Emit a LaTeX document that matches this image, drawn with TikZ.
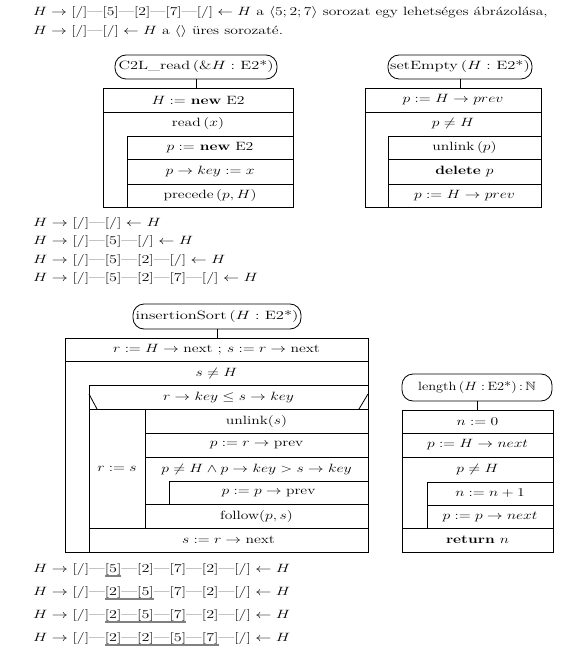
\documentclass[tikz,border=0pt]{standalone}
\usepackage{amssymb}
\usepackage{graphicx}
\newcommand\hs[2][1.3]{\scalebox{#1}[1]{#2}}
\newcommand\ulbox[1]{\setbox0\hbox{#1}\rlap{\color{gray}\rule[-4.5pt]{\wd0}{1.3pt}}\box0}
\newcommand\Cell[6]{\node[cell,minimum width={#4pt-#2pt},minimum height={#5pt-#3pt}] (#1) at (#2,#3) {\hs{#6}};}
\tikzset{
  cell/.style={draw=black, line width=0.8pt, anchor=north west, inner sep=0pt, outer sep=0pt},
  ttl/.style={draw=black, line width=0.8pt, rounded corners=11pt, inner xsep=1pt, inner ysep=0pt, outer sep=0pt},
  txt/.style={inner sep=0pt, anchor=base west},
  lbl/.style={inner sep=0pt},
  conn/.style={line width=0.8pt},
  diag/.style={line width=0.8pt},
  every node/.append style={font=\fontsize{12pt}{14pt}\selectfont}
}
\begin{document}
\begin{tikzpicture}[x=1pt,y=-1pt]
\useasboundingbox (0,0) rectangle (586,663);
% top text
\node[txt] (top1) at (33,16) {\hs{$H\to{}$[/]---[5]---[2]---[7]---[/]${}\leftarrow H$ a $\langle 5;2;7\rangle$ sorozat egy lehetséges ábrázolása,}};
\node[txt] (top2) at (33,35) {\hs{$H\to{}$[/]---[/]${}\leftarrow H$ a $\langle\rangle$ üres sorozaté.}};

% C2L_read
\node[ttl, minimum width=162pt, minimum height=24pt] (t1) at (196,67) {\hs[1.36]{C2L\_read\,$(\&H:\ $E2*$)$}};
\Cell{a1}{103}{88}{293}{112}{$H :=$ \textbf{new} E2}
\Cell{a2}{103}{112}{293}{207}{}
\node[lbl] (a2t) at (198,124) {\hs{read\,$(x)$}};
\Cell{a3}{127}{136}{293}{159}{$p :=$ \textbf{new} E2}
\Cell{a4}{127}{159}{293}{184}{$p \to key := x$}
\Cell{a5}{127}{184}{293}{207}{precede\,$(p,H)$}
\draw[conn] (t1.south) -- (t1.south |- a1.north);

% setEmpty
\node[ttl, minimum width=144pt, minimum height=24pt] (t2) at (460,67) {\hs[1.38]{setEmpty\,$(H:\ $E2*$)$}};
\Cell{b1}{365}{88}{541}{112}{$p := H \to prev$}
\Cell{b2}{365}{112}{541}{207}{}
\node[lbl] (b2t) at (453,124) {\hs{$p \neq H$}};
\Cell{b3}{388}{136}{541}{159}{unlink\,$(p)$}
\Cell{b4}{388}{159}{541}{184}{\textbf{delete} $p$}
\Cell{b5}{388}{184}{541}{207}{$p := H \to prev$}
\draw[conn] (t2.south) -- (t2.south |- b1.north);

% middle lines
\node[txt] (m1) at (33,226) {\hs[1.34]{$H\to{}$[/]---[/]${}\leftarrow H$}};
\node[txt] (m2) at (33,244) {\hs[1.34]{$H\to{}$[/]---[5]---[/]${}\leftarrow H$}};
\node[txt] (m3) at (33,263) {\hs[1.34]{$H\to{}$[/]---[5]---[2]---[/]${}\leftarrow H$}};
\node[txt] (m4) at (33,281) {\hs[1.34]{$H\to{}$[/]---[5]---[2]---[7]---[/]${}\leftarrow H$}};

% insertionSort
\node[ttl, minimum width=168pt, minimum height=25pt] (t3) at (217,316.5) {\hs[1.38]{insertionSort\,$(H:\ $E2*$)$}};
\Cell{c1}{65}{338}{368}{361}{$r := H \to{}$next ; $s := r \to{}$next}
\Cell{c2}{65}{361}{368}{552}{}
\node[lbl] (c2t) at (216.5,373) {\hs{$s \neq H$}};
\Cell{c3}{89}{385}{368}{409}{$r \to key \le s \to key$}
\draw[diag] (89,394) -- (97,409);
\draw[diag] (359,409) -- (368,394);
\Cell{c4}{89}{409}{145}{528}{$r := s$}
\Cell{c5}{145}{409}{368}{433}{unlink$(s)$}
\Cell{c6}{145}{433}{368}{457}{$p := r \to{}$prev}
\Cell{c7}{145}{457}{368}{504}{}
\node[lbl] (c7t) at (256.5,469) {\hs{$p \neq H \land p \to key > s \to key$}};
\Cell{c8}{169}{481}{368}{504}{$p := p \to{}$prev}
\Cell{c9}{145}{504}{368}{528}{follow$(p,s)$}
\Cell{c10}{89}{528}{368}{552}{$s := r \to{}$next}
\draw[conn] (t3.south) -- (t3.south |- c1.north);

% length
\node[ttl, minimum width=150pt, minimum height=27pt] (t4) at (477,387.5) {\hs[1.2]{length\,$(H:$\,E2*$)$\,:\,$\mathbb{N}$}};
\Cell{d1}{402}{410}{553}{433}{$n := 0$}
\Cell{d2}{402}{433}{553}{457}{$p := H \to next$}
\Cell{d3}{402}{457}{553}{528}{}
\node[lbl] (d3t) at (477.5,469.5) {\hs{$p \neq H$}};
\Cell{d4}{427}{482}{553}{505}{$n := n+1$}
\Cell{d5}{427}{505}{553}{528}{$p := p \to next$}
\Cell{d6}{402}{528}{553}{552}{\textbf{return} $n$}
\draw[conn] (t4.south) -- (t4.south |- d1.north);

% bottom lines
\node[txt] (e1) at (33,572) {\hs[1.34]{$H\to{}$[/]---\ulbox{[5]}---[2]---[7]---[2]---[/]${}\leftarrow H$}};
\node[txt] (e2) at (33,595) {\hs[1.34]{$H\to{}$[/]---\ulbox{[2]---[5]}---[7]---[2]---[/]${}\leftarrow H$}};
\node[txt] (e3) at (33,618) {\hs[1.34]{$H\to{}$[/]---\ulbox{[2]---[5]---[7]}---[2]---[/]${}\leftarrow H$}};
\node[txt] (e4) at (33,641) {\hs[1.34]{$H\to{}$[/]---\ulbox{[2]---[2]---[5]---[7]}---[/]${}\leftarrow H$}};
\end{tikzpicture}
\end{document}
